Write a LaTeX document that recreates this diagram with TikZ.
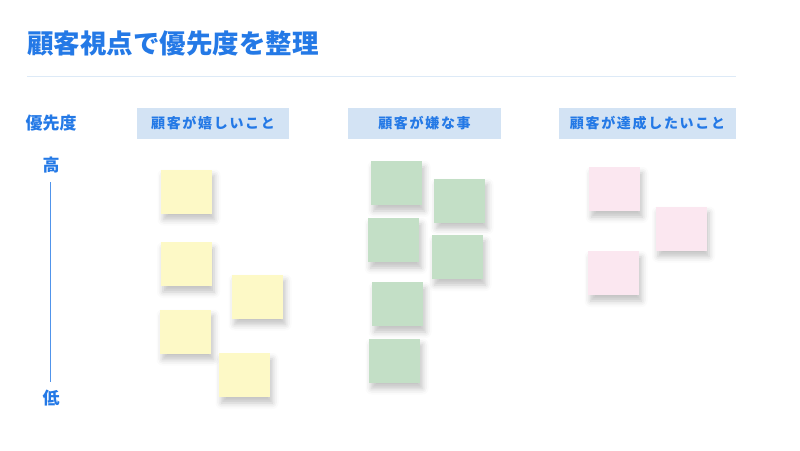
\documentclass[tikz,border=0pt]{standalone}
\usepackage{fontspec}
\setmainfont{Noto Sans CJK JP}
\usepackage{xcolor}
\usetikzlibrary{positioning,shadows.blur}

\definecolor{ttlblue}{HTML}{2479E6}
\definecolor{hdrfill}{HTML}{D3E3F4}
\definecolor{rulecol}{HTML}{DDEAF7}
\definecolor{yelnote}{HTML}{FDF9C6}
\definecolor{grnnote}{HTML}{C3DFC6}
\definecolor{pnknote}{HTML}{FBE7F0}

\begin{document}
\begin{tikzpicture}[
    x=1pt, y=-1pt,
    title/.style={anchor=west, inner sep=0pt, font=\bfseries\fontsize{26.5}{30}\selectfont, text=ttlblue},
    axislbl/.style={inner sep=0pt, font=\bfseries\fontsize{17}{19}\selectfont, text=ttlblue},
    header/.style={rectangle, fill=hdrfill, minimum height=31pt, inner sep=0pt,
        font=\bfseries\fontsize{14}{16}\selectfont\addfontfeature{LetterSpace=12}, text=ttlblue},
    note/.style={rectangle, minimum width=51pt, minimum height=44pt, inner sep=0pt,
        blur shadow={shadow xshift=2.5pt, shadow yshift=-6pt, shadow blur radius=6pt, shadow opacity=24}},
    yel/.style={note, fill=yelnote},
    grn/.style={note, fill=grnnote},
    pnk/.style={note, fill=pnknote}
]
\useasboundingbox (0,0) rectangle (800,450);

% title and rule
\node[title] (ttl) at (27,43) {顧客視点で優先度を整理};
\coordinate (rl) at (27,76);
\coordinate (rr) at (736,76);
\draw[rulecol, line width=1pt] (rl) -- (rr);

% priority axis
\node[axislbl] (prio) at (51,123.5) {優先度};
\node[axislbl] (hi) at (51,165) {高};
\node[axislbl] (lo) at (51,398) {低};
\draw[ttlblue!80, line width=0.8pt] (50,182) -- (50,382);

% column headers
\node[header, minimum width=152pt] (hjoy) at (213,123.5) {顧客が嬉しいこと};
\node[header, minimum width=153pt] (hbad) at (424.5,123.5) {顧客が嫌な事};
\node[header, minimum width=177pt] (hgoal) at (647.5,123.5) {顧客が達成したいこと};

% yellow notes
\node[yel] (y1) at (186.5,191.5) {};
\node[yel] (y2) at (186,264) {};
\node[yel] (y3) at (257.5,296.5) {};
\node[yel] (y4) at (185.5,331.5) {};
\node[yel] (y5) at (244.5,375) {};

% green notes
\node[grn] (g1) at (396.5,183) {};
\node[grn] (g2) at (459.5,200.5) {};
\node[grn] (g3) at (393.5,240) {};
\node[grn] (g4) at (457.5,257) {};
\node[grn] (g5) at (397.5,304) {};
\node[grn] (g6) at (394.5,360.5) {};

% pink notes
\node[pnk] (p1) at (614.5,189) {};
\node[pnk] (p2) at (681,228.5) {};
\node[pnk] (p3) at (613.5,273) {};
\end{tikzpicture}
\end{document}
